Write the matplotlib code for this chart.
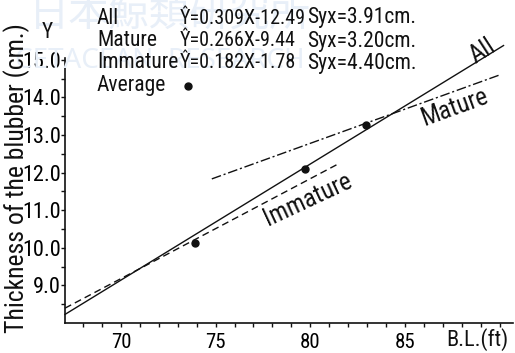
import matplotlib
matplotlib.use('Agg')
import matplotlib.pyplot as plt
from matplotlib import font_manager
from matplotlib.ticker import FixedLocator, FormatStrFormatter

# narrow lettering if the system has it, plain DejaVu otherwise
installed = {f.name for f in font_manager.fontManager.ttflist}
narrow = [n for n in ['Liberation Sans Narrow', 'Roboto Condensed'] if n in installed]
plt.rcParams['font.family'] = narrow + ['DejaVu Sans']
plt.rcParams['font.stretch'] = 'condensed'

# regression of blubber thickness on body length
fit_names = ['All', 'Mature', 'Immature']
slopes = [0.309, 0.266, 0.182]
intercepts = [-12.49, -9.44, -1.78]
syx = [3.91, 3.20, 4.40]
line_start = [67.05, 67.05, 74.8]   # ft
line_end = [90.2, 81.5, 90.05]

# mean thickness by length class
avg_bl = [73.9, 79.7, 82.95]
avg_thick = [10.13, 12.10, 13.27]

x_ticks = [70, 75, 80, 85]
y_ticks = [9.0, 10.0, 11.0, 12.0, 13.0, 14.0, 15.0]

W, H = 515, 353
def fx(x):
    return x / W
def fy(y):
    return 1 - y / H

fig = plt.figure(figsize=(W / 100, H / 100), dpi=100)
ink = '#111111'
fs = 15.5

# faint watermark behind everything
fig.text(fx(170), fy(14), '日本鯨類研究所', fontsize=29, color='#e8eff8',
         family=['Noto Sans CJK JP', 'DejaVu Sans'], ha='center', va='center', zorder=0)
fig.text(fx(160), fy(61), 'CETACEAN  RESEARCH', fontsize=20, color='#e8eff8',
         family=['Noto Sans', 'DejaVu Sans'], fontstretch='normal', ha='center', va='center', zorder=0)

ax = fig.add_axes([fx(65), fy(323), (513 - 65) / W, (323 - 58) / H])
ax.patch.set_alpha(0)
ax.set_xlim(67.05, 90.7)
ax.set_ylim(8.0, 15.05)

for side in ['top', 'right']:
    ax.spines[side].set_visible(False)
for side in ['left', 'bottom']:
    ax.spines[side].set_linewidth(1.2)
    ax.spines[side].set_color(ink)

styles = ['-', (0, (5, 3)), (0, (7, 2, 1.5, 2))]
for name, a, b, x0, x1, ls in zip(fit_names, slopes, intercepts, line_start, line_end, styles):
    ax.plot([x0, x1], [a * x0 + b, a * x1 + b], color=ink, linewidth=1.0,
            linestyle=ls, clip_on=False)

ax.plot(avg_bl, avg_thick, 'o', color=ink, markersize=5, clip_on=False)

# line labels written along the lines
ax.text(89.1, 15.23, 'All', rotation=33, fontsize=18, ha='center', va='center', color=ink)
ax.text(87.6, 13.72, 'Mature', rotation=20, fontsize=18, ha='center', va='center', color=ink)
ax.text(79.85, 11.28, 'Immature', rotation=25, fontsize=18, ha='center', va='center', color=ink)

ax.xaxis.set_major_locator(FixedLocator(x_ticks))
ax.xaxis.set_minor_locator(FixedLocator(range(68, 91)))
ax.yaxis.set_major_locator(FixedLocator(y_ticks))
ax.yaxis.set_minor_locator(FixedLocator([8.5 + i for i in range(7)]))
ax.yaxis.set_major_formatter(FormatStrFormatter('%.1f'))
ax.tick_params(axis='both', which='both', direction='out', color=ink, width=1.0)
ax.tick_params(axis='x', which='both', length=3, pad=4, labelsize=15)
ax.tick_params(axis='y', which='both', length=3, pad=0, labelsize=16)

fig.text(fx(477), fy(340), 'B.L.(ft)', fontsize=16, ha='center', va='center', color=ink)
fig.text(fx(47), fy(33), 'Y', fontsize=fs, ha='center', va='center', color=ink)
fig.text(fx(17), fy(178), 'Thickness of the blubber (cm.)', fontsize=18.5, rotation=90,
         ha='center', va='center', color=ink)

# equation block
row_y = [18, 41, 63]
for name, a, b, s, y in zip(fit_names, slopes, intercepts, syx, row_y):
    fig.text(fx(97), fy(y), name, fontsize=fs, va='center', color=ink)
    fig.text(fx(180), fy(y), f'Ŷ={a:.3f}X-{abs(b):.2f}', fontsize=14.5, va='center', color=ink)
    fig.text(fx(307), fy(y), f'Syx={s:.2f}cm.', fontsize=fs, va='center', color=ink)
fig.text(fx(97), fy(86), 'Average', fontsize=fs, va='center', color=ink)
fig.add_artist(plt.Line2D([fx(188)], [fy(86)], marker='o', color=ink, markersize=5,
                          transform=fig.transFigure))

fig.savefig('out.png', dpi=100, facecolor='white')
